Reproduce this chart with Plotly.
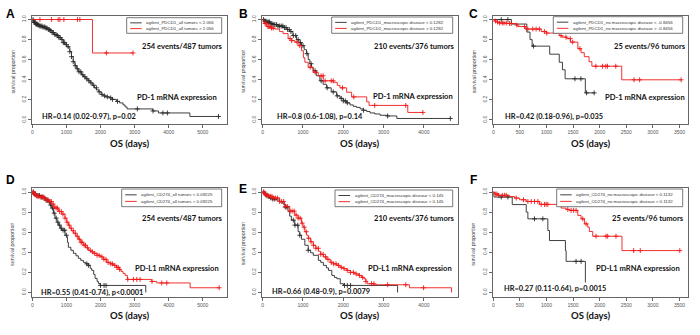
import numpy as np
import plotly.graph_objects as go

W, H = 700, 335

# ---------------- DATA ----------------
# Panel A: PD-1, all tumors
a_low_t = [0, 30, 60, 100, 150, 220, 300, 380, 450, 517, 580, 650, 711, 780, 850, 906, 960, 1010, 1053, 1100,
           1150, 1200, 1248, 1300, 1360, 1442, 1500, 1570, 1637, 1700, 1760, 1820, 1881, 1950, 2020, 2076, 2150,
           2271, 2350, 2466, 2560, 2661, 2720, 2778, 3530, 3700, 4620, 5460]
a_low_s = [1.0, 0.985, 0.97, 0.955, 0.945, 0.935, 0.925, 0.915, 0.90, 0.89, 0.87, 0.85, 0.84, 0.82, 0.80, 0.77,
           0.75, 0.73, 0.72, 0.68, 0.63, 0.58, 0.54, 0.51, 0.48, 0.45, 0.43, 0.41, 0.39, 0.37, 0.345, 0.32, 0.30,
           0.28, 0.255, 0.24, 0.23, 0.22, 0.205, 0.185, 0.17, 0.15, 0.13, 0.11, 0.09, 0.07, 0.035, 0.035]
a_low_c = [20, 40, 60, 85, 105, 120, 140, 165, 190, 220, 250, 280, 310, 345, 370, 400, 430, 470, 500, 540, 580,
           620, 660, 700, 740, 780, 820, 870, 910, 950, 1000, 1050, 1100, 1150, 1200, 1260, 1320, 1370, 1420,
           1480, 1540, 1600, 1660, 1720, 1800, 1880, 1960, 2040, 2120, 2200, 2300, 2350, 2500, 3080, 3540,
           3830, 3960, 5460]
a_high_t = [0, 1764, 2953]
a_high_s = [1.0, 0.667, 0.667]
a_high_c = [224, 565, 760, 809, 926, 1326, 1394, 2173, 2953]

# Panel B: PD-1, macroscopic disease
b_low_t = [0, 40, 91, 180, 257, 380, 506, 600, 672, 750, 838, 900, 963, 1030, 1087, 1130, 1170, 1210, 1253, 1330,
           1419, 1500, 1585, 1700, 1834, 1920, 2000, 2080, 2166, 2250, 2332, 2420, 2498, 2580, 2664, 2780, 2913,
           3079, 3328, 4656]
b_low_s = [1.0, 0.985, 0.975, 0.96, 0.95, 0.935, 0.92, 0.90, 0.88, 0.84, 0.80, 0.77, 0.74, 0.70, 0.66, 0.60, 0.56,
           0.52, 0.49, 0.44, 0.39, 0.355, 0.32, 0.28, 0.24, 0.215, 0.19, 0.17, 0.15, 0.135, 0.125, 0.11, 0.097,
           0.085, 0.07, 0.06, 0.047, 0.04, 0.015, 0.015]
b_low_c = [20, 50, 80, 110, 140, 170, 200, 230, 260, 300, 340, 380, 420, 460, 500, 540, 580, 620, 660, 700, 760,
           820, 880, 940, 1000, 1100, 1200, 1300, 1450, 1600, 1750, 1850, 1950, 2000, 2050, 2100, 2500, 3100, 4656]
b_high_t = [0, 30, 100, 200, 300, 420, 506, 630, 720, 797, 880, 963, 1010, 1046, 1129, 1253, 1378, 1502, 1751,
            1850, 1917, 2083, 2207, 2581, 2640, 3600, 3975]
b_high_s = [1.0, 0.96, 0.93, 0.915, 0.905, 0.88, 0.86, 0.81, 0.79, 0.775, 0.74, 0.69, 0.62, 0.575, 0.525, 0.475,
            0.44, 0.39, 0.375, 0.345, 0.32, 0.276, 0.23, 0.18, 0.145, 0.075, 0.075]
b_high_c = [60, 90, 130, 150, 180, 220, 260, 680, 720, 850, 920, 1180, 1300, 1450, 1500, 1550, 1700, 1750, 1980,
            2260, 2780, 3550, 3975]

# Panel C: PD-1, no macroscopic disease
c_low_t = [0, 340, 630, 690, 730, 1060, 1240, 1300, 1350, 1730, 1896]
c_low_s = [1.0, 0.955, 0.875, 0.80, 0.735, 0.655, 0.575, 0.50, 0.41, 0.27, 0.27]
c_low_c = [150, 274, 755, 1535, 1647, 1753, 1896]
c_high_t = [0, 25, 56, 100, 250, 430, 462, 600, 900, 1000, 1240, 1290, 1380, 1450, 1590, 1650, 1710, 1800, 1853,
            2414, 3530]
c_high_s = [1.0, 0.985, 0.975, 0.965, 0.96, 0.945, 0.93, 0.905, 0.88, 0.865, 0.84, 0.825, 0.81, 0.775, 0.71, 0.67,
            0.63, 0.58, 0.535, 0.40, 0.40]
c_high_c = [40, 80, 120, 168, 200, 243, 306, 337, 443, 586, 649, 742, 805, 867, 961, 1004, 1273, 1366, 1447, 1491,
            1628, 1928, 2052, 2115, 2146, 2302, 2645, 2751, 3530]

# Panel D: PD-L1, all tumors
d_low_t = [0, 50, 127, 220, 323, 400, 470, 520, 568, 620, 665, 720, 763, 820, 861, 959, 1008, 1030, 1057, 1130,
           1204, 1280, 1350, 1420, 1497, 1570, 1644, 1700, 1742, 1800, 1840, 1900, 1937, 1986, 3327]
d_low_s = [1.0, 0.98, 0.965, 0.95, 0.94, 0.92, 0.90, 0.87, 0.84, 0.79, 0.74, 0.70, 0.67, 0.64, 0.62, 0.57, 0.555,
           0.50, 0.45, 0.42, 0.39, 0.365, 0.34, 0.32, 0.30, 0.285, 0.27, 0.24, 0.22, 0.18, 0.14, 0.11, 0.09, 0.07, 0.0]
d_low_c = [30, 60, 90, 130, 170, 210, 260, 300, 350, 400, 440, 500, 540, 590, 640, 700, 750, 800, 850, 900, 950,
           1000, 1600, 1650, 2000, 2104, 2162]
d_high_t = [0, 30, 80, 127, 220, 323, 420, 500, 568, 630, 665, 763, 861, 959, 1010, 1057, 1100, 1150, 1204, 1280,
            1350, 1420, 1497, 1570, 1644, 1720, 1790, 1900, 1986, 2080, 2180, 2300, 2380, 2466, 2560, 2600, 2661,
            2720, 2789, 3503, 3650, 4628, 5479]
d_high_s = [1.0, 0.985, 0.97, 0.957, 0.95, 0.94, 0.92, 0.905, 0.88, 0.85, 0.84, 0.806, 0.78, 0.74, 0.70, 0.67,
            0.64, 0.615, 0.59, 0.56, 0.53, 0.50, 0.47, 0.445, 0.42, 0.405, 0.39, 0.37, 0.355, 0.33, 0.30, 0.285,
            0.27, 0.25, 0.23, 0.21, 0.19, 0.17, 0.13, 0.11, 0.095, 0.047, 0.047]
d_high_c = [20, 45, 70, 100, 140, 180, 230, 280, 320, 370, 420, 470, 520, 560, 610, 660, 700, 740, 800, 850, 900,
            960, 1020, 1080, 1140, 1200, 1260, 1320, 1380, 1430, 1460, 1520, 1560, 1620, 1700, 1760, 1830, 1900,
            1960, 2040, 2100, 2160, 2220, 2300, 2350, 2420, 2480, 2520, 2560, 2800, 2965, 3063, 3160, 3510, 3796,
            3943, 5479]

# Panel E: PD-L1, macroscopic disease
e_low_t = [0, 40, 100, 167, 250, 335, 420, 502, 560, 628, 670, 711, 795, 879, 920, 962, 1046, 1130, 1190, 1255,
           1381, 1440, 1506, 1580, 1632, 1715, 1780, 1841, 1925, 2008, 3347]
e_low_s = [1.0, 0.98, 0.96, 0.94, 0.93, 0.92, 0.90, 0.88, 0.85, 0.806, 0.76, 0.72, 0.67, 0.605, 0.57, 0.53, 0.47,
           0.42, 0.395, 0.37, 0.32, 0.30, 0.27, 0.245, 0.22, 0.17, 0.15, 0.137, 0.087, 0.07, 0.0]
e_low_c = [30, 70, 110, 150, 200, 250, 300, 560, 600, 760, 800, 870, 920, 1130, 2030, 2100, 2180]
e_high_t = [0, 30, 80, 125, 250, 420, 540, 670, 795, 879, 962, 1000, 1046, 1090, 1130, 1190, 1255, 1320, 1381,
            1440, 1506, 1590, 1674, 1760, 1841, 1920, 2008, 2090, 2176, 2280, 2385, 2450, 2510, 2560, 2594, 2762,
            3640, 4686]
e_high_s = [1.0, 0.985, 0.97, 0.957, 0.94, 0.906, 0.856, 0.81, 0.77, 0.74, 0.69, 0.65, 0.605, 0.57, 0.54, 0.505,
            0.47, 0.44, 0.41, 0.38, 0.355, 0.33, 0.30, 0.285, 0.27, 0.25, 0.237, 0.22, 0.20, 0.185, 0.17, 0.15,
            0.137, 0.11, 0.087, 0.077, 0.047, 0.0]
e_high_c = [20, 50, 80, 110, 150, 190, 230, 270, 320, 370, 420, 470, 520, 570, 620, 680, 730, 780, 830, 880, 930,
            980, 1030, 1080, 1140, 1200, 1260, 1320, 1380, 1440, 1500, 1560, 1620, 1700, 1760, 1820, 1880, 1950,
            2020, 2100, 2180, 2250, 2320, 2400, 2480, 2560, 2700, 2760, 3100, 3550, 3992]

# Panel F: PD-L1, no macroscopic disease
f_low_t = [0, 12, 356, 619, 650, 1025, 1056, 1356, 1369, 1731]
f_low_s = [1.0, 0.95, 0.875, 0.80, 0.733, 0.617, 0.517, 0.417, 0.31, 0.10]
f_low_c = [150, 275, 775, 931, 1556, 1650]
f_high_t = [0, 25, 100, 306, 400, 494, 619, 869, 1244, 1275, 1369, 1431, 1588, 1650, 1713, 1775, 1806, 1869, 2419,
            3506]
f_high_s = [1.0, 0.98, 0.967, 0.955, 0.94, 0.923, 0.906, 0.877, 0.86, 0.84, 0.827, 0.817, 0.767, 0.733, 0.683,
            0.65, 0.607, 0.56, 0.417, 0.417]
f_high_c = [45, 70, 100, 170, 212, 243, 431, 568, 650, 713, 775, 838, 900, 963, 994, 1025, 1400, 1463, 1510, 1556,
            1681, 1744, 1931, 2119, 2150, 2306, 2638, 2763, 3506]

panel_letters = ["A", "B", "C", "D", "E", "F"]
legend_low = ["agilent_PDCD1_all tumors &lt; 2.056",
              "agilent_PDCD1_macroscopic disease &lt; 0.1282",
              "agilent_PDCD1_no macroscopic disease &lt; -0.8456",
              "agilent_CD274_all tumors &lt; 0.09225",
              "agilent_CD274_macroscopic disease &lt; 0.145",
              "agilent_CD274_no macroscopic disease &lt; 0.1132"]
legend_high = [s.replace("&lt;", "&gt;") for s in legend_low]
events_txt = ["254 events/487 tumors", "210 events/376 tumors", "25 events/96 tumors",
              "254 events/487 tumors", "210 events/376 tumors", "25 events/96 tumors"]
expr_txt = ["PD-1 mRNA expression"] * 3 + ["PD-L1 mRNA expression"] * 3
hr_txt = ["HR=0.14 (0.02-0.97), p=0.02", "HR=0.8 (0.6-1.08), p=0.14", "HR=0.42 (0.18-0.96), p=0.035",
          "HR=0.55 (0.41-0.74), p&lt;0.0001", "HR=0.66 (0.48-0.9), p=0.0079", "HR=0.27 (0.11-0.64), p=0.0015"]
x_ticks_long = [0, 1000, 2000, 3000, 4000, 5000]
x_ticks_mid = [0, 1000, 2000, 3000, 4000]
x_ticks_short = [0, 500, 1000, 1500, 2000, 2500, 3000, 3500]
y_ticks = [0.0, 0.2, 0.4, 0.6, 0.8, 1.0]

curves = [
    (a_low_t, a_low_s, a_low_c, a_high_t, a_high_s, a_high_c),
    (b_low_t, b_low_s, b_low_c, b_high_t, b_high_s, b_high_c),
    (c_low_t, c_low_s, c_low_c, c_high_t, c_high_s, c_high_c),
    (d_low_t, d_low_s, d_low_c, d_high_t, d_high_s, d_high_c),
    (e_low_t, e_low_s, e_low_c, e_high_t, e_high_s, e_high_c),
    (f_low_t, f_low_s, f_low_c, f_high_t, f_high_s, f_high_c),
]

# ---------------- LAYOUT GEOMETRY (pixels) ----------------
col_px = [(31.7, 227.3), (262.0, 458.0), (492.5, 688.0)]
row_px = [(15.5, 124.0), (188.0, 296.5)]
x_ranges = [(-18, 5718), (-17, 4846), (-15, 3660)]
x_tick_sets = [x_ticks_long, x_ticks_mid, x_ticks_short]
letter_pos = [(10, 14), (243, 14), (473, 14), (10, 180), (243, 189), (473, 180)]
legend_boxes = [(126.7, 221.7, 17.7, 33.3), (331.7, 452.7, 17.0, 33.3), (553.3, 682.7, 16.7, 33.3),
                (121.7, 221.7, 189.0, 206.7), (335.0, 452.7, 190.0, 206.7), (556.7, 682.7, 189.0, 206.7)]
events_pos = [(182.7, 46), (414.3, 46), (650, 46), (182.7, 217.7), (414.3, 217.7), (648.3, 217.7)]
expr_pos = [(176.7, 96.7), (412.7, 96), (645.3, 96.7), (177.3, 268.3), (410, 268.3), (638.3, 268.3)]
hr_pos = [(40, 116.7), (275, 116.7), (503.3, 116.7), (39.3, 292.3), (270, 291.7), (501.7, 288.3)]

BLACK = "#2a2a2a"
RED = "#f01818"


def px(x, y):
    return x / W, 1 - y / H


def surv_at(t_arr, s_arr, c):
    t = np.asarray(t_arr, dtype=float)
    s = np.asarray(s_arr, dtype=float)
    idx = np.searchsorted(t, np.asarray(c, dtype=float), side="right") - 1
    return s[np.clip(idx, 0, len(s) - 1)]


def ann(x, y, text, font, xanchor="center", angle=0):
    fx, fy = px(x, y)
    return dict(x=fx, y=fy, xref="paper", yref="paper", text=text, showarrow=False, font=font,
                xanchor=xanchor, yanchor="middle", textangle=angle)


fig = go.Figure()
annotations = []
shapes = []
layout_axes = {}

for i in range(6):
    r, c = divmod(i, 3)
    sfx = "" if i == 0 else str(i + 1)
    xa, ya = "x" + sfx, "y" + sfx
    x0p, x1p = col_px[c]
    y0p, y1p = row_px[r]
    tick_font = dict(family="Liberation Sans, Arial", size=5, color="#555")
    layout_axes["xaxis" + sfx] = dict(
        domain=[x0p / W, x1p / W], range=list(x_ranges[c]), anchor=ya,
        tickvals=x_tick_sets[c], ticktext=[str(v) for v in x_tick_sets[c]],
        ticks="outside", ticklen=3, tickwidth=0.7, tickcolor="#666", tickfont=tick_font,
        showline=True, mirror=True, linecolor="#666", linewidth=1,
        showgrid=False, zeroline=False, fixedrange=True)
    layout_axes["yaxis" + sfx] = dict(
        domain=[1 - y1p / H, 1 - y0p / H], range=[-0.04, 1.04], anchor=xa,
        tickvals=y_ticks, ticktext=["%.1f" % v for v in y_ticks], tickangle=-90,
        ticks="outside", ticklen=3, tickwidth=0.7, tickcolor="#666", tickfont=tick_font,
        showline=True, mirror=True, linecolor="#666", linewidth=1,
        showgrid=False, zeroline=False, fixedrange=True)

    lt, ls, lc, ht, hs, hc = curves[i]
    for (tt, ss, cc, col) in [(lt, ls, lc, BLACK), (ht, hs, hc, RED)]:
        fig.add_trace(go.Scatter(x=tt, y=ss, mode="lines", line=dict(color=col, width=0.9, shape="hv"),
                                 xaxis=xa, yaxis=ya, showlegend=False, hoverinfo="skip"))
        fig.add_trace(go.Scatter(x=cc, y=surv_at(tt, ss, cc), mode="markers",
                                 marker=dict(symbol="cross-thin", size=3.5, line=dict(color=col, width=0.9)),
                                 xaxis=xa, yaxis=ya, showlegend=False, hoverinfo="skip"))

    bold = dict(family="Lato, Open Sans", color="#111")
    annotations.append(ann(*letter_pos[i], "<b>%s</b>" % panel_letters[i],
                           dict(family="Liberation Sans, Arial", size=12, color="#000")))
    annotations.append(ann((x0p + x1p) / 2, y1p + 19, "<b>OS (days)</b>", dict(bold, size=9.5)))
    annotations.append(ann(x0p - 19, (y0p + y1p) / 2 + 2, "survival proportion",
                           dict(family="Liberation Sans, Arial", size=5.3, color="#444"), angle=-90))
    annotations.append(ann(*events_pos[i], "<b>%s</b>" % events_txt[i], dict(bold, size=7.6)))
    annotations.append(ann(*expr_pos[i], "<b>%s</b>" % expr_txt[i], dict(bold, size=7.6)))
    annotations.append(ann(*hr_pos[i], "<b>%s</b>" % hr_txt[i], dict(bold, size=7.4), xanchor="left"))

    # legend box
    bx0, bx1, by0, by1 = legend_boxes[i]
    shapes.append(dict(type="rect", xref="paper", yref="paper", x0=bx0 / W, x1=bx1 / W,
                       y0=1 - by1 / H, y1=1 - by0 / H, line=dict(color="#555", width=0.8),
                       fillcolor="white", layer="above"))
    hgt = by1 - by0
    for k, (txt, col) in enumerate([(legend_low[i], BLACK), (legend_high[i], RED)]):
        yy = by0 + hgt * (0.33 + 0.37 * k)
        shapes.append(dict(type="line", xref="paper", yref="paper", x0=(bx0 + 3.5) / W, x1=(bx0 + 15) / W,
                           y0=1 - yy / H, y1=1 - yy / H, line=dict(color=col, width=0.9), layer="above"))
        annotations.append(ann(bx0 + 17.5, yy, txt, dict(family="Liberation Sans, Arial", size=4.4, color="#333"),
                               xanchor="left"))

fig.update_layout(width=W, height=H, autosize=False, margin=dict(l=0, r=0, t=0, b=0),
                  paper_bgcolor="white", plot_bgcolor="white", showlegend=False,
                  annotations=annotations, shapes=shapes, **layout_axes)

fig.write_html("out.html", config={"displayModeBar": False},
               post_script="document.body.style.margin='0px';document.body.style.padding='0px';")
